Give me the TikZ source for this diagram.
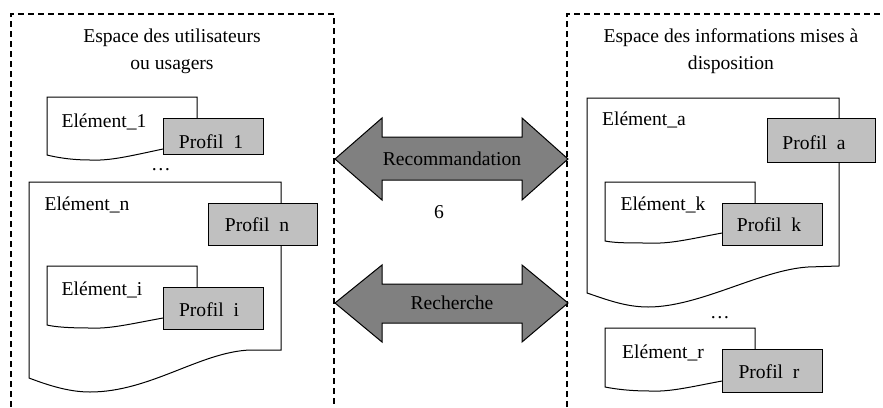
\documentclass[tikz,border=0pt]{standalone}
\usepackage{fontspec}
\setmainfont{Liberation Serif}
\definecolor{profgray}{HTML}{C0C0C0}
\definecolor{arrgray}{HTML}{808080}
\begin{document}
\begin{tikzpicture}[x=1pt,y=-1pt,
  font=\fontsize{19.6}{27}\selectfont,
  frame/.style={line width=1.6pt, dash pattern=on 6pt off 4pt},
  doc/.style={draw=black, line width=1pt, fill=white},
  profil/.style={draw=black, line width=1pt, fill=profgray, inner sep=0pt, text depth=0pt},
  bigarrow/.style={draw=black, line width=1pt, fill=arrgray},
  lbl/.style={inner sep=0pt, anchor=center},
  title/.style={inner sep=0pt, align=center, anchor=center}]
\useasboundingbox (0,0) rectangle (883,407);

% dashed frames
\draw[frame] (11,407) -- (11,14) -- (334,14) -- (334,407);
\draw[frame] (567,407) -- (567,14) -- (883,14);

% titles
\node[title] (tleft) at (172,51) {Espace des utilisateurs\\ou usagers};
\node[title] (tright) at (731,51) {Espace des informations mises à\\disposition};

% ---------- left side ----------
% Element_1
\draw[doc] (163,149) .. controls (130,156) and (110,161) .. (90,160)
  .. controls (70,160) and (55,157) .. (47,155) -- (47,97) -- (197,97) -- (197,130);
\node[lbl] (e1) at (104,122) {Elément\_1};
\node[profil, minimum width=100pt, minimum height=36pt] (p1) at (213,136) {};
\node[lbl] (p1t) at (211,142) {Profil\ \ 1};
\node[lbl] (dots1) at (161,170) {\dots};

% Element_n
\draw[doc] (281,350) -- (281,182) -- (29,182) -- (29,378)
  .. controls (50,386) and (70,392) .. (90,392)
  .. controls (150,392) and (200,352) .. (250,350) -- cycle;
\node[lbl] (en) at (87,205) {Elément\_n};
\node[profil, minimum width=109pt, minimum height=42pt] (pn) at (262.5,224) {};
\node[lbl] (pnt) at (257,225) {Profil\ \ n};

% Element_i
\draw[doc] (163,318) .. controls (130,324) and (110,329) .. (90,328)
  .. controls (70,328) and (55,327) .. (47,325) -- (47,266) -- (197,266) -- (197,300);
\node[lbl] (ei) at (102,290) {Elément\_i};
\node[profil, minimum width=100pt, minimum height=42pt] (pi) at (213,308) {};
\node[lbl] (pit) at (209,310) {Profil\ \ i};

% ---------- arrows ----------
\draw[bigarrow] (335,159) -- (382,118) -- (382,137) -- (522,137) -- (522,118)
  -- (568,159) -- (522,200) -- (522,180) -- (382,180) -- (382,200) -- cycle;
\node[lbl] (rec) at (452,159) {Recommandation};
\node[lbl] (six) at (439,212) {6};
\draw[bigarrow] (335,303) -- (382,265) -- (382,284) -- (522,284) -- (522,265)
  -- (568,303) -- (522,342) -- (522,323) -- (382,323) -- (382,342) -- cycle;
\node[lbl] (rch) at (452,303) {Recherche};

% ---------- right side ----------
% Element_a
\draw[doc] (839,140) -- (839,266) -- (808,267)
  .. controls (760,270) and (700,307) .. (648,307)
  .. controls (625,307) and (605,299) .. (587,293) -- (587,98) -- (839,98) -- cycle;
\node[lbl] (ea) at (644,120) {Elément\_a};
\node[profil, minimum width=108pt, minimum height=44pt] (pa) at (821,140) {};
\node[lbl] (pat) at (814,143) {Profil\ \ a};

% Element_k
\draw[doc] (722,233) .. controls (690,239) and (670,244) .. (650,243)
  .. controls (630,243) and (615,243) .. (605,241) -- (605,182) -- (755,182) -- (755,215);
\node[lbl] (ek) at (663,205) {Elément\_k};
\node[profil, minimum width=100pt, minimum height=42pt] (pk) at (772,224) {};
\node[lbl] (pkt) at (769,225) {Profil\ \ k};

\node[lbl] (dots2) at (720,318) {\dots};

% Element_r
\draw[doc] (722,381) .. controls (690,387) and (670,392) .. (650,391)
  .. controls (630,391) and (615,389) .. (605,387) -- (605,328) -- (755,328) -- (755,360);
\node[lbl] (er) at (663,353) {Elément\_r};
\node[profil, minimum width=100pt, minimum height=43pt] (pr) at (772,370.5) {};
\node[lbl] (prt) at (769,372) {Profil\ \ r};
\end{tikzpicture}
\end{document}
